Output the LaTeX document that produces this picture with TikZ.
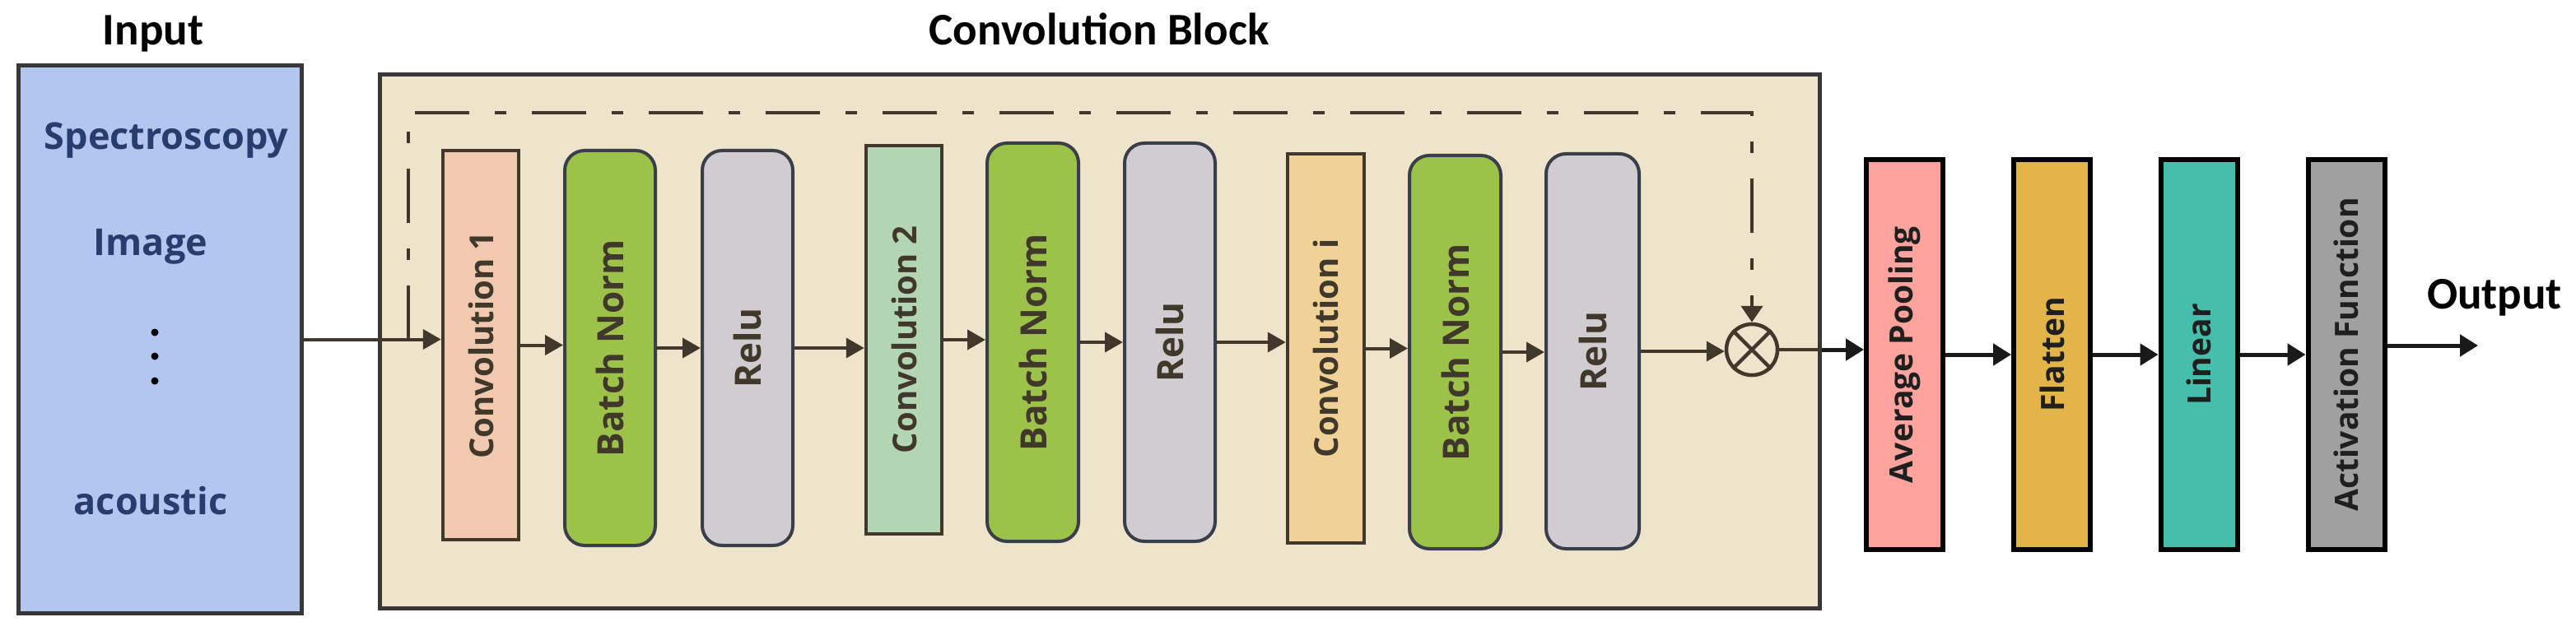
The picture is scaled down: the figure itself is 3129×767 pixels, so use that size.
\documentclass[tikz,border=0pt]{standalone}
\usepackage{fontspec}
\usepackage{graphicx}
\usetikzlibrary{arrows.meta}
\newfontfamily\ttlfont{Carlito}
\newfontfamily\labfont{Open Sans}
\definecolor{inpfill}{RGB}{178,198,239}
\definecolor{inptext}{RGB}{40,60,110}
\definecolor{blockfill}{RGB}{238,227,203}
\definecolor{frame}{RGB}{55,55,55}
\definecolor{brownline}{RGB}{64,56,42}
\definecolor{slateline}{RGB}{58,61,74}
\definecolor{convA}{RGB}{240,201,175}
\definecolor{convB}{RGB}{180,213,180}
\definecolor{convC}{RGB}{240,210,152}
\definecolor{bnfill}{RGB}{157,194,74}
\definecolor{relufill}{RGB}{208,204,208}
\definecolor{apfill}{RGB}{253,163,158}
\definecolor{flfill}{RGB}{227,180,73}
\definecolor{lifill}{RGB}{69,190,171}
\definecolor{acfill}{RGB}{160,160,160}
\begin{document}
\begin{tikzpicture}[x=1pt,y=-1pt,
  ttl/.style={font=\ttlfont\bfseries\fontsize{55}{60}\selectfont, text=black, inner sep=0pt, anchor=base},
  inlab/.style={font=\labfont\bfseries\fontsize{45}{50}\selectfont, text=inptext, inner sep=0pt, anchor=base},
  convbox/.style={draw=brownline, line width=4.5pt, inner sep=0pt, text=brownline,
     font=\labfont\bfseries\fontsize{40}{46}\selectfont},
  roundbox/.style={draw=slateline, line width=4pt, rounded corners=24pt, inner sep=0pt, text=brownline,
     font=\labfont\bfseries\fontsize{44}{50}\selectfont},
  outbox/.style={draw=black, line width=6pt, inner sep=0pt, text=black!88,
     minimum width=93pt, minimum height=474pt,
     font=\labfont\bfseries\fontsize{39}{44}\selectfont},
  arr/.style={draw=brownline, line width=4pt, -{Triangle[length=22pt,width=24pt]}},
  barr/.style={draw=black!90, line width=5pt, -{Triangle[length=22pt,width=26pt]}},
  skip/.style={draw=brownline, line width=4.5pt, dash pattern=on 66pt off 31pt on 14pt off 31pt,
     -{Triangle[length=20pt,width=26pt]}}
]
\useasboundingbox (0,0) rectangle (3129,767);

% input
\node[draw=frame, line width=5pt, fill=inpfill, minimum width=344pt, minimum height=665pt, inner sep=0pt] (inp) at (194,412.5) {};
\node[ttl] (inptitle) at (186,55) {Input};
\node[inlab] (spec) at (202,182) {Spectroscopy};
\node[inlab] (img) at (183,311) {Image};
\node[inlab] (aco) at (183,625) {acoustic};
\fill[black] (188,404) circle (4.5pt) (188,433) circle (4.5pt) (188,463) circle (4.5pt);

% convolution block
\node[draw=frame, line width=5pt, fill=blockfill, minimum width=1749pt, minimum height=648pt, inner sep=0pt] (blk) at (1335.5,415) {};
\node[ttl] (blktitle) at (1335,55) {Convolution Block};

\node[convbox, fill=convA, minimum width=92pt, minimum height=473pt] (c1) at (584,419.5) {\rotatebox{90}{Convolution 1}};
\node[roundbox, fill=bnfill, minimum width=110pt, minimum height=480pt] (bn1) at (741,423) {\rotatebox{90}{Batch Norm}};
\node[roundbox, fill=relufill, minimum width=110pt, minimum height=480pt] (r1) at (908,423) {\rotatebox{90}{Relu}};
\node[convbox, fill=convB, minimum width=92pt, minimum height=472pt] (c2) at (1098,413) {\rotatebox{90}{Convolution 2}};
\node[roundbox, fill=bnfill, minimum width=111pt, minimum height=484pt] (bn2) at (1254.5,416) {\rotatebox{90}{Batch Norm}};
\node[roundbox, fill=relufill, minimum width=110pt, minimum height=484pt] (r2) at (1421,416) {\rotatebox{90}{Relu}};
\node[convbox, fill=convC, minimum width=93pt, minimum height=473pt] (ci) at (1610.5,423.5) {\rotatebox{90}{Convolution i}};
\node[roundbox, fill=bnfill, minimum width=111pt, minimum height=478pt] (bn3) at (1767.5,428) {\rotatebox{90}{Batch Norm}};
\node[roundbox, fill=relufill, minimum width=113pt, minimum height=480pt] (r3) at (1934.5,427) {\rotatebox{90}{Relu}};

\node[draw=brownline, line width=4.5pt, circle, minimum size=62pt, inner sep=0pt] (mul) at (2128,425) {};
\draw[brownline, line width=4.5pt] (mul.north west) -- (mul.south east) (mul.north east) -- (mul.south west);

% outer layers
\node[outbox, fill=apfill] (ap) at (2313.5,431) {\rotatebox{90}{Average Pooling}};
\node[outbox, fill=flfill] (fl) at (2492.5,431) {\rotatebox{90}{Flatten}};
\node[outbox, fill=lifill] (li) at (2671,431) {\rotatebox{90}{Linear}};
\node[outbox, fill=acfill] (ac) at (2850,431) {\rotatebox{90}{Activation Function}};
\node[ttl] (outtitle) at (3030,375) {Output};
\coordinate (outend) at (3010,420);
\coordinate (skipstart) at (496,413);

% connectors
\draw[arr] (inp.east) -- (inp.east -| c1.west);
\draw[skip] (skipstart) -- (496,137) -- (2128,137) -- (mul.north);
\draw[arr] (c1.east) -- (c1.east -| bn1.west);
\draw[arr] (bn1.east) -- (bn1.east -| r1.west);
\draw[arr] (r1.east) -- (r1.east -| c2.west);
\draw[arr] (c2.east) -- (c2.east -| bn2.west);
\draw[arr] (bn2.east) -- (bn2.east -| r2.west);
\draw[arr] (r2.east) -- (r2.east -| ci.west);
\draw[arr] (ci.east) -- (ci.east -| bn3.west);
\draw[arr] (bn3.east) -- (bn3.east -| r3.west);
\draw[arr] (r3.east) -- (r3.east -| mul.west);
\draw[brownline, line width=4pt] (mul.east) -- (mul.east -| blk.east);
\draw[barr] (mul.east -| blk.east) -- (mul.east -| ap.west);
\draw[barr] (ap.east) -- (ap.east -| fl.west);
\draw[barr] (fl.east) -- (fl.east -| li.west);
\draw[barr] (li.east) -- (li.east -| ac.west);
\draw[barr] (ac.east |- outend) -- (outend);
\end{tikzpicture}
\end{document}
